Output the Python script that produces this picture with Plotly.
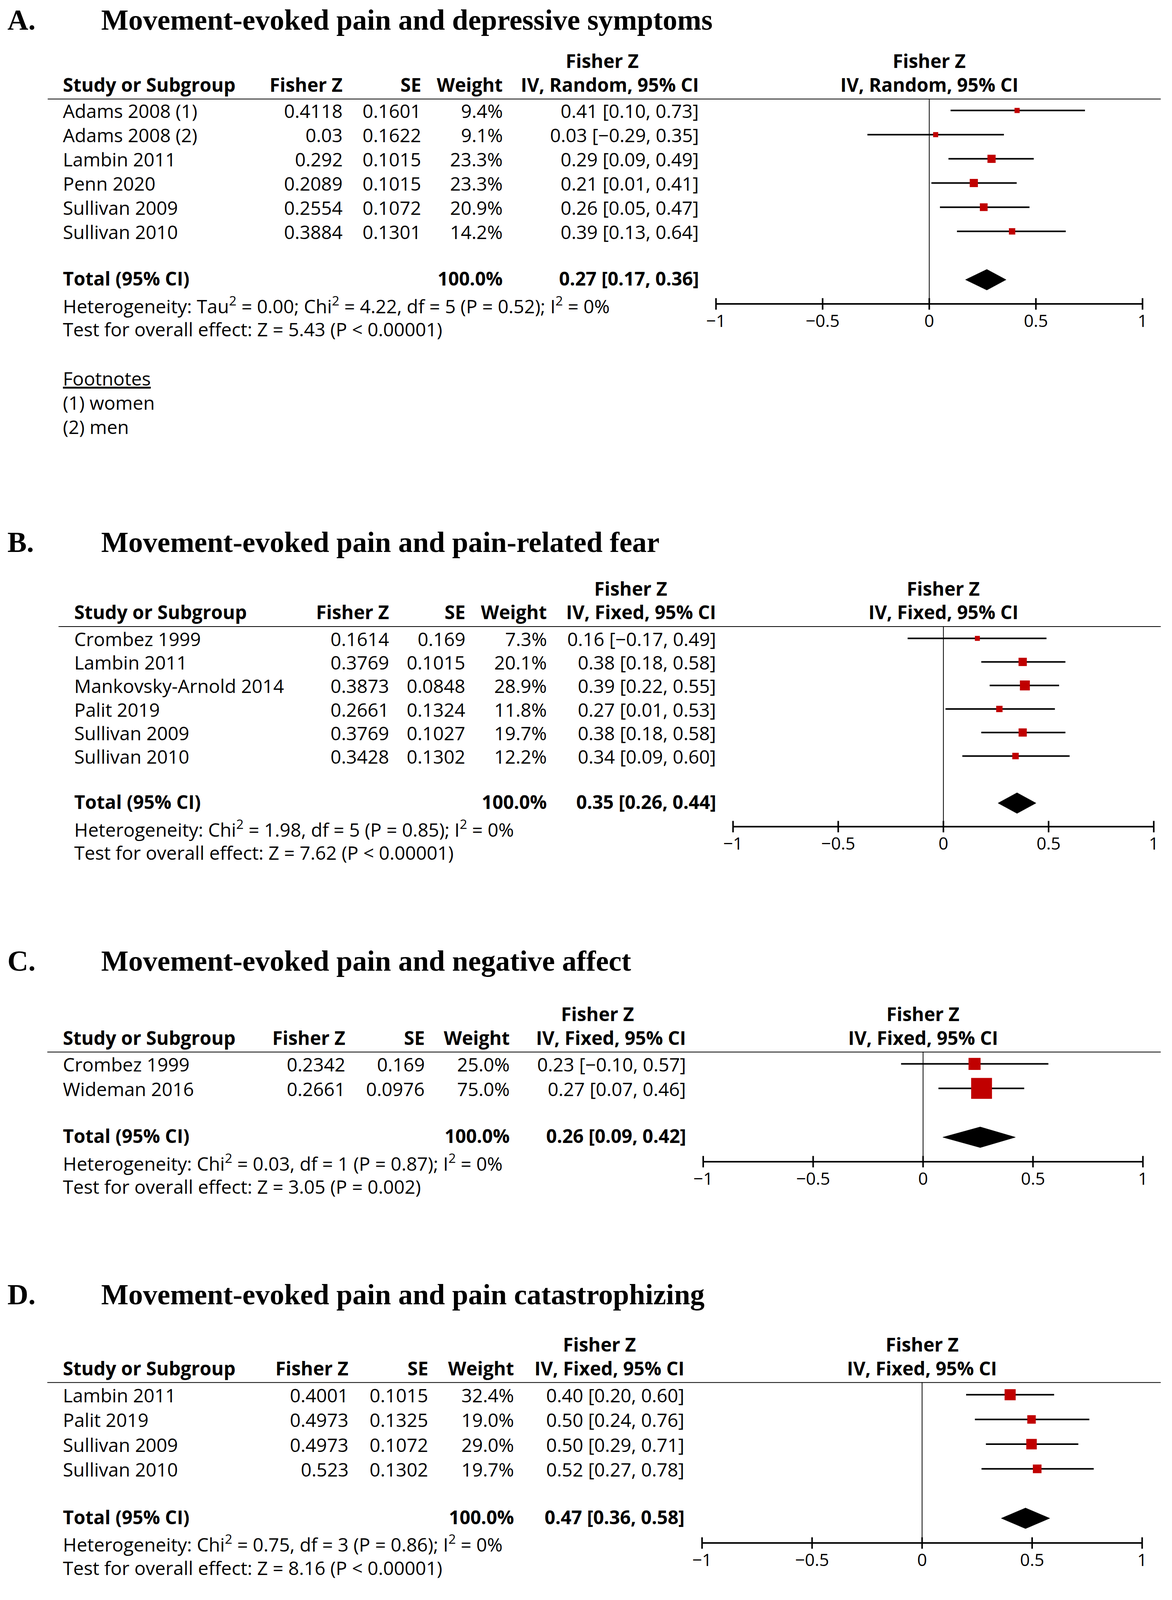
import math
import plotly.graph_objects as go

# reference coordinate space (all positions below are in these pixels)
W, H = 3000, 4162
# actual figure size: slightly smaller so the whole chart fits in the visible viewport
FIG_W, FIG_H = 2984, 4070
SC = FIG_H / H

SANS = "Open Sans"
SERIF = "Liberation Serif"
RED = "#C00000"
MINUS = "\u2212"

# ---------------- data ----------------
A_study = ["Adams 2008 (1)", "Adams 2008 (2)", "Lambin 2011", "Penn 2020", "Sullivan 2009", "Sullivan 2010"]
A_z = [0.4118, 0.03, 0.292, 0.2089, 0.2554, 0.3884]
A_se = [0.1601, 0.1622, 0.1015, 0.1015, 0.1072, 0.1301]
A_w = [9.4, 9.1, 23.3, 23.3, 20.9, 14.2]
A_est = [0.41, 0.03, 0.29, 0.21, 0.26, 0.39]
A_lo = [0.10, -0.29, 0.09, 0.01, 0.05, 0.13]
A_hi = [0.73, 0.35, 0.49, 0.41, 0.47, 0.64]
A_total = [0.27, 0.17, 0.36]
A_het = "Heterogeneity: Tau<sup>2</sup> = 0.00; Chi<sup>2</sup> = 4.22, df = 5 (P = 0.52); I<sup>2</sup> = 0%"
A_test = "Test for overall effect: Z = 5.43 (P < 0.00001)"
A_notes = ["<u>Footnotes</u>", "(1) women", "(2) men"]

B_study = ["Crombez 1999", "Lambin 2011", "Mankovsky-Arnold 2014", "Palit 2019", "Sullivan 2009", "Sullivan 2010"]
B_z = [0.1614, 0.3769, 0.3873, 0.2661, 0.3769, 0.3428]
B_se = [0.169, 0.1015, 0.0848, 0.1324, 0.1027, 0.1302]
B_w = [7.3, 20.1, 28.9, 11.8, 19.7, 12.2]
B_est = [0.16, 0.38, 0.39, 0.27, 0.38, 0.34]
B_lo = [-0.17, 0.18, 0.22, 0.01, 0.18, 0.09]
B_hi = [0.49, 0.58, 0.55, 0.53, 0.58, 0.60]
B_total = [0.35, 0.26, 0.44]
B_het = "Heterogeneity: Chi<sup>2</sup> = 1.98, df = 5 (P = 0.85); I<sup>2</sup> = 0%"
B_test = "Test for overall effect: Z = 7.62 (P < 0.00001)"

C_study = ["Crombez 1999", "Wideman 2016"]
C_z = [0.2342, 0.2661]
C_se = [0.169, 0.0976]
C_w = [25.0, 75.0]
C_est = [0.23, 0.27]
C_lo = [-0.10, 0.07]
C_hi = [0.57, 0.46]
C_total = [0.26, 0.09, 0.42]
C_het = "Heterogeneity: Chi<sup>2</sup> = 0.03, df = 1 (P = 0.87); I<sup>2</sup> = 0%"
C_test = "Test for overall effect: Z = 3.05 (P = 0.002)"

D_study = ["Lambin 2011", "Palit 2019", "Sullivan 2009", "Sullivan 2010"]
D_z = [0.4001, 0.4973, 0.4973, 0.523]
D_se = [0.1015, 0.1325, 0.1072, 0.1302]
D_w = [32.4, 19.0, 29.0, 19.7]
D_est = [0.40, 0.50, 0.50, 0.52]
D_lo = [0.20, 0.24, 0.29, 0.27]
D_hi = [0.60, 0.76, 0.71, 0.78]
D_total = [0.47, 0.36, 0.58]
D_het = "Heterogeneity: Chi<sup>2</sup> = 0.75, df = 3 (P = 0.86); I<sup>2</sup> = 0%"
D_test = "Test for overall effect: Z = 8.16 (P < 0.00001)"

TICKS = [-1, -0.5, 0, 0.5, 1]
TICK_TEXT = [MINUS + "1", MINUS + "0.5", "0", "0.5", "1"]

panels = [
    dict(letter="A.", title="Movement-evoked pain and depressive symptoms", method="IV, Random, 95% CI",
         study=A_study, z=A_z, se=A_se, w=A_w, est=A_est, lo=A_lo, hi=A_hi, total=A_total,
         het=A_het, test=A_test, notes=A_notes,
         title_px=None, row0=281, sp=63.3, header_px=250, total_row=7, axis_row=8,
         x_name=143, x_fz=869, x_se=1072, x_w=1283, x_ci=1789, x_h1=1537,
         x_m1=1831, x_p1=2932, line_x0=106, k=4.43, notes_px=[988, 1051, 1115]),
    dict(letter="B.", title="Movement-evoked pain and pain-related fear", method="IV, Fixed, 95% CI",
         study=B_study, z=B_z, se=B_se, w=B_w, est=B_est, lo=B_lo, hi=B_hi, total=B_total,
         het=B_het, test=B_test, notes=[],
         title_px=1420, row0=1663, sp=61.6, header_px=1631, total_row=7, axis_row=8,
         x_name=172, x_fz=989, x_se=1186, x_w=1397, x_ci=1833, x_h1=1611,
         x_m1=1875, x_p1=2961, line_x0=134, k=4.84, notes_px=[]),
    dict(letter="C.", title="Movement-evoked pain and negative affect", method="IV, Fixed, 95% CI",
         study=C_study, z=C_z, se=C_se, w=C_w, est=C_est, lo=C_lo, hi=C_hi, total=C_total,
         het=C_het, test=C_test, notes=[],
         title_px=2517, row0=2777, sp=64.0, header_px=2745, total_row=3, axis_row=4,
         x_name=143, x_fz=876, x_se=1081, x_w=1301, x_ci=1756, x_h1=1525,
         x_m1=1798, x_p1=2933, line_x0=105, k=6.3, notes_px=[]),
    dict(letter="D.", title="Movement-evoked pain and pain catastrophizing", method="IV, Fixed, 95% CI",
         study=D_study, z=D_z, se=D_se, w=D_w, est=D_est, lo=D_lo, hi=D_hi, total=D_total,
         het=D_het, test=D_test, notes=[],
         title_px=3390, row0=3643, sp=64.7, header_px=3610, total_row=5, axis_row=6,
         x_name=143, x_fz=884, x_se=1090, x_w=1312, x_ci=1752, x_h1=1530,
         x_m1=1795, x_p1=2931, line_x0=105, k=5.1, notes_px=[]),
]

LINE_X1 = 2979
FS = round(49 * SC)
TICK_FS = round(45 * SC)
TITLE_FS = round(76 * SC)
LW = 4
DIAMOND_HALF_PX = 27
TICK_HALF_PX = 15
XPAD = 0.03
CAP_CORR = 0.12   # plotly draws cap centre this fraction of font size below the anchor


def fmt_num(v):
    return f"{v:.2f}".replace("-", MINUS)


def ci_text(e, l, h):
    return f"{fmt_num(e)} [{fmt_num(l)}, {fmt_num(h)}]"


fig = go.Figure()
annotations = []
shapes = []
layout_axes = {}


def ann(text, xpx, py_cap, xanchor, bold=False, size=FS, family=SANS):
    """Place text so that its cap centre sits at reference pixel row py_cap.
    py_cap=None pins the text box to the top edge of the figure."""
    if py_cap is None:
        y, yanchor = 1.0, "top"
    else:
        y, yanchor = 1 - (py_cap - CAP_CORR * size / SC) / H, "middle"
    annotations.append(dict(
        text=f"<b>{text}</b>" if bold else text,
        x=xpx / W, xref="paper", y=y, yref="paper",
        xanchor=xanchor, yanchor=yanchor, showarrow=False,
        font=dict(family=family, size=size, color="black"),
    ))


for i, p in enumerate(panels):
    n = i + 1
    xr = "x" if n == 1 else f"x{n}"
    yr = "y" if n == 1 else f"y{n}"
    row0, sp = p["row0"], p["sp"]

    def to_row(py, row0=row0, sp=sp):
        return (py - row0) / sp

    def to_px(r, row0=row0, sp=sp):
        return row0 + r * sp

    header_row = to_row(p["header_px"])
    axis_row = p["axis_row"]
    axis_px = to_px(axis_row)
    total_row = p["total_row"]
    total_px = to_px(total_row)

    # axes
    ppu = (p["x_p1"] - p["x_m1"]) / 2.0
    xdom = [(p["x_m1"] - XPAD * ppu) / W, (p["x_p1"] + XPAD * ppu) / W]
    bottom_px = axis_px + TICK_HALF_PX + 3
    ydom = [1 - bottom_px / H, 1 - p["header_px"] / H]
    layout_axes["xaxis" if n == 1 else f"xaxis{n}"] = dict(
        domain=xdom, range=[-1 - XPAD, 1 + XPAD], anchor=yr,
        tickvals=TICKS, ticktext=TICK_TEXT, ticks="", showline=False,
        showgrid=False, zeroline=False, fixedrange=True,
        tickfont=dict(family=SANS, size=TICK_FS, color="black"),
        ticklabelstandoff=-4,
    )
    layout_axes["yaxis" if n == 1 else f"yaxis{n}"] = dict(
        domain=ydom, range=[to_row(bottom_px), header_row], anchor=xr,
        visible=False, fixedrange=True,
    )

    # zero line
    fig.add_trace(go.Scatter(x=[0, 0], y=[header_row, axis_row], mode="lines",
                             line=dict(color="black", width=2), xaxis=xr, yaxis=yr,
                             hoverinfo="skip", showlegend=False))
    # axis line with crossing ticks
    th = TICK_HALF_PX / sp
    ax_x, ax_y = [-1, 1], [axis_row, axis_row]
    for t in TICKS:
        ax_x += [None, t, t]
        ax_y += [None, axis_row - th, axis_row + th]
    fig.add_trace(go.Scatter(x=ax_x, y=ax_y, mode="lines",
                             line=dict(color="black", width=LW), xaxis=xr, yaxis=yr,
                             hoverinfo="skip", showlegend=False))
    # CI whiskers
    cx, cy = [], []
    for r, (l, h) in enumerate(zip(p["lo"], p["hi"])):
        cx += [l, h, None]
        cy += [r, r, None]
    fig.add_trace(go.Scatter(x=cx, y=cy, mode="lines",
                             line=dict(color="black", width=LW), xaxis=xr, yaxis=yr,
                             hoverinfo="skip", showlegend=False))
    # study squares
    fig.add_trace(go.Scatter(x=p["z"], y=list(range(len(p["z"]))), mode="markers",
                             marker=dict(symbol="square", color=RED, opacity=1,
                                         size=[SC * p["k"] * math.sqrt(w) for w in p["w"]],
                                         line=dict(width=0)),
                             xaxis=xr, yaxis=yr, cliponaxis=False,
                             hoverinfo="skip", showlegend=False))
    # total diamond
    te, tl, thh = p["total"]
    dh = DIAMOND_HALF_PX / sp
    fig.add_trace(go.Scatter(x=[tl, te, thh, te, tl],
                             y=[total_row, total_row - dh, total_row, total_row + dh, total_row],
                             mode="lines", fill="toself", fillcolor="black",
                             line=dict(color="black", width=1), xaxis=xr, yaxis=yr,
                             hoverinfo="skip", showlegend=False))

    # header rule
    shapes.append(dict(type="line", xref="paper", yref=yr,
                       x0=p["line_x0"] / W, x1=LINE_X1 / W, y0=header_row, y1=header_row,
                       line=dict(color="black", width=LW)))

    # titles
    ann(p["letter"], 0, p["title_px"], "left", bold=True, size=TITLE_FS, family=SERIF)
    ann(p["title"], 242, p["title_px"], "left", bold=True, size=TITLE_FS, family=SERIF)

    # headers
    h1 = p["header_px"] - 93
    h2 = p["header_px"] - 31
    x0_px = (p["x_m1"] + p["x_p1"]) / 2.0
    ann("Fisher Z", p["x_h1"], h1, "center", bold=True)
    ann("Fisher Z", x0_px, h1, "center", bold=True)
    ann("Study or Subgroup", p["x_name"], h2, "left", bold=True)
    ann("Fisher Z", p["x_fz"], h2, "right", bold=True)
    ann("SE", p["x_se"], h2, "right", bold=True)
    ann("Weight", p["x_w"], h2, "right", bold=True)
    ann(p["method"], p["x_ci"], h2, "right", bold=True)
    ann(p["method"], x0_px, h2, "center", bold=True)

    # study rows
    for r in range(len(p["study"])):
        py = to_px(r) + 7
        ann(p["study"][r], p["x_name"], py, "left")
        ann(str(p["z"][r]), p["x_fz"], py, "right")
        ann(str(p["se"][r]), p["x_se"], py, "right")
        ann(f"{p['w'][r]:.1f}%", p["x_w"], py, "right")
        ann(ci_text(p["est"][r], p["lo"][r], p["hi"][r]), p["x_ci"], py, "right")

    # total row
    tpy = total_px + 2
    ann("Total (95% CI)", p["x_name"], tpy, "left", bold=True)
    ann("100.0%", p["x_w"], tpy, "right", bold=True)
    ann(ci_text(te, tl, thh), p["x_ci"], tpy, "right", bold=True)

    ann(p["het"], p["x_name"], total_px + 72, "left")
    ann(p["test"], p["x_name"], total_px + 135, "left")

    for txt, npx in zip(p["notes"], p["notes_px"]):
        ann(txt, p["x_name"], npx, "left")

fig.update_layout(
    width=FIG_W, height=FIG_H, margin=dict(l=0, r=0, t=0, b=0),
    paper_bgcolor="white", plot_bgcolor="white",
    showlegend=False, annotations=annotations, shapes=shapes,
    **layout_axes,
)

fig.write_html("out.html")
